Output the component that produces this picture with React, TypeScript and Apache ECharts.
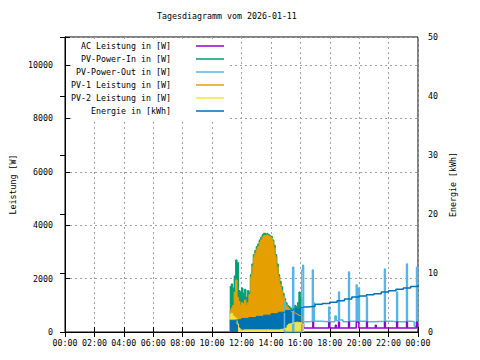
import { useEffect, useRef } from 'react';
import * as echarts from 'echarts';

const FONT = "'DejaVu Sans Mono', 'Liberation Mono', monospace";
const FS = 8.3;

const titleText = 'Tagesdiagramm vom 2026-01-11';
const xTickLabels = ['00:00', '02:00', '04:00', '06:00', '08:00', '10:00', '12:00', '14:00', '16:00', '18:00', '20:00', '22:00', '00:00'];
const yLeftTickLabels = ['0', '2000', '4000', '6000', '8000', '10000'];
const yRightTickLabels = ['0', '10', '20', '30', '40', '50'];

const names = {
  ac: 'AC Leistung in [W]',
  pvIn: 'PV-Power-In in [W]',
  pvOut: 'PV-Power-Out in [W]',
  pv1: 'PV-1 Leistung in [W]',
  pv2: 'PV-2 Leistung in [W]',
  energy: 'Energie in [kWh]',
};

// hours of day
const pvTimes = [
  11.2, 11.3, 11.4, 11.5, 11.6, 11.7, 11.8, 11.9,
  12.0, 12.1, 12.2, 12.3, 12.4, 12.5, 12.6, 12.7, 12.8, 12.9,
  13.0, 13.1, 13.2, 13.3, 13.4, 13.5, 13.6, 13.7, 13.8, 13.9,
  14.0, 14.1, 14.2, 14.3, 14.4, 14.5, 14.6, 14.7, 14.8, 14.9,
  15.0, 15.1, 15.2, 15.3, 15.4, 15.5, 15.6, 15.7, 15.8, 15.9,
  16.0, 16.1, 16.2,
];
const pvInW = [
  1700, 1800, 1650, 2100, 2700, 2600, 1550, 1500,
  1650, 1450, 1600, 1300, 1550, 1500, 2150, 2550, 2900, 3050,
  3200, 3300, 3450, 3550, 3650, 3700, 3680, 3700, 3650, 3620,
  3580, 3450, 3250, 2900, 2550, 2150, 1900, 1700, 1450, 1250,
  1100, 1000, 950, 900, 850, 900, 1000, 950, 1100, 1500,
  1300, 700, 0,
];
const pv1W = [
  800, 900, 1000, 1500, 1950, 1300, 1150, 1000,
  1100, 1050, 1200, 1000, 1100, 1400, 2050, 2450, 2800, 2950,
  3100, 3200, 3350, 3450, 3550, 3620, 3600, 3640, 3600, 3580,
  3520, 3400, 3150, 2800, 2430, 2050, 1780, 1550, 1320, 1150,
  1000, 920, 860, 800, 760, 720, 700, 680, 650, 620,
  600, 550, 0,
];
const pv2EarlyTimes = [11.2, 11.3, 11.4, 11.5, 11.6, 11.7, 11.8];
const pv2EarlyW = [650, 700, 600, 550, 500, 300, 0];
const pv2Times = [
  11.8, 11.9,
  12.0, 12.1, 12.2, 12.3, 12.4, 12.5, 12.6, 12.7, 12.8, 12.9,
  13.0, 13.1, 13.2, 13.3, 13.4, 13.5, 13.6, 13.7, 13.8, 13.9,
  14.0, 14.1, 14.2, 14.3, 14.4, 14.5, 14.6, 14.7, 14.8, 14.9,
  15.0, 15.1, 15.2, 15.3, 15.4, 15.5, 15.6, 15.7, 15.8, 15.9,
  16.0, 16.1, 16.2,
];
const pv2W = [
  150, 80,
  60, 80, 80, 80, 80, 80, 80, 80, 80, 80,
  80, 80, 80, 80, 80, 80, 80, 80, 80, 80,
  80, 80, 80, 80, 80, 80, 100, 100, 120, 120,
  150, 250, 300, 320, 330, 350, 360, 370, 360, 350,
  340, 300, 0,
];
const energyFillTimes = [11.2, 11.5, 12.0, 12.5, 13.0, 13.5, 14.0, 14.5, 15.0, 15.5, 16.0, 16.2];
const energyFillKWh = [2.0, 2.1, 2.3, 2.45, 2.65, 2.85, 3.1, 3.35, 3.65, 3.9, 4.15, 4.25];
const energyLineTimes = [16.2, 16.5, 17.0, 17.5, 18.0, 18.5, 19.0, 19.5, 20.0, 20.5, 21.0, 21.5, 22.0, 22.5, 23.0, 23.5, 24.0];
const energyLineKWh = [4.25, 4.35, 4.7, 4.85, 5.05, 5.3, 5.6, 5.95, 6.1, 6.3, 6.5, 6.8, 7.0, 7.25, 7.45, 7.7, 7.95];
const pvOutTimes = [
  14.85, 14.92, 15.48, 15.55, 16.1, 16.16, 16.22, 16.6, 16.82, 16.88, 16.9, 16.95,
  17.4, 17.93, 18.0, 18.35, 18.45, 18.6, 18.66, 18.9, 19.28, 19.34, 19.8, 19.86,
  19.96, 20.02, 20.5, 20.56, 21.0, 21.72, 21.78, 22.2, 22.55, 22.61, 23.22, 23.28,
  23.5, 23.75, 23.9, 23.96, 24.0,
];
const pvOutW = [
  1350, 0, 2430, 0, 2320, 2500, 380, 400, 2320, 400, 1100, 400,
  380, 940, 380, 600, 420, 1500, 450, 380, 2250, 400, 1760, 420,
  1650, 400, 1310, 380, 400, 2360, 400, 380, 1500, 380, 2550, 400,
  380, 220, 2430, 220, 220,
];
const acTimes = [
  16.15, 16.22, 16.85, 16.9, 17.93, 18.0, 18.38, 18.44, 18.6, 18.66, 19.28, 19.34,
  19.8, 19.98, 20.5, 20.56, 21.1, 21.16, 21.72, 21.78, 22.55, 22.61, 23.22, 23.28,
  23.9, 23.96, 24.0,
];
const acW = [
  330, 150, 370, 150, 350, 150, 250, 150, 370, 150, 370, 150,
  370, 150, 370, 150, 250, 150, 370, 150, 370, 150, 370, 150,
  370, 150, 150,
];

const colors = {
  ac: '#9400d3',
  pvIn: '#009e73',
  pvOut: '#56b4e9',
  pv1: '#e69f00',
  pv2: '#f0e442',
  energy: '#0072b2',
};

const zip = (t: number[], v: number[]) => t.map((x, i) => [x, v[i]]);

function area(name: string, color: string, data: number[][], yAxisIndex = 0) {
  return {
    type: 'line',
    name,
    data,
    step: 'end',
    showSymbol: false,
    symbol: 'none',
    yAxisIndex,
    color,
    lineStyle: { color, width: 1 },
    areaStyle: { color, opacity: 1 },
  };
}
function line(name: string, color: string, data: number[][], width: number, yAxisIndex = 0) {
  return {
    type: 'line',
    name,
    data,
    step: 'end',
    showSymbol: false,
    symbol: 'none',
    yAxisIndex,
    color,
    lineStyle: { color, width },
  };
}

export default function App() {
  const ref = useRef<HTMLDivElement>(null);
  useEffect(() => {
    if (!ref.current) return;
    const chart = echarts.init(ref.current, undefined, { renderer: 'svg' });
    const txt = { color: '#000', fontFamily: FONT, fontSize: FS };
    const dash = { color: '#a0a0a0', type: [2, 3] as any, width: 1 };
    chart.setOption({
      animation: false,
      backgroundColor: '#fff',
      title: {
        text: titleText,
        left: 157,
        top: 12,
        padding: 0,
        textStyle: { ...txt, fontWeight: 'normal' },
      },
      legend: {
        data: [names.ac, names.pvIn, names.pvOut, names.pv1, names.pv2, names.energy],
        orient: 'vertical',
        right: 250,
        top: 42,
        padding: [0, 6, 5, 0],
        backgroundColor: '#fff',
        align: 'right',
        icon: 'rect',
        itemWidth: 28,
        itemHeight: 1.5,
        itemGap: 5,
        formatter: (n: string) => `{a|${n}}`,
        textStyle: {
          ...txt,
          rich: { a: { ...txt, lineHeight: 10, padding: [0, 20, 0, 0] } },
        },
      },
      grid: {
        left: 65,
        right: 62,
        top: 37,
        bottom: 28,
        show: true,
        borderColor: '#000',
        borderWidth: 1,
        backgroundColor: 'transparent',
      },
      xAxis: [
        {
          type: 'value',
          min: 0,
          max: 24,
          interval: 2,
          position: 'bottom',
          axisLine: { show: true, lineStyle: { color: '#000' } },
          axisTick: { show: true, inside: true, length: 5, lineStyle: { color: '#000' } },
          axisLabel: { ...txt, margin: 7, formatter: (v: number) => xTickLabels[Math.round(v / 2)] ?? '' },
          splitLine: { show: true, lineStyle: dash },
        },
        {
          type: 'value',
          min: 0,
          max: 24,
          interval: 2,
          position: 'top',
          axisLine: { show: true, lineStyle: { color: '#000' } },
          axisTick: { show: true, inside: true, length: 5, lineStyle: { color: '#000' } },
          axisLabel: { show: false },
          splitLine: { show: false },
        },
      ],
      yAxis: [
        {
          type: 'value',
          min: 0,
          max: 11050,
          interval: 2000,
          position: 'left',
          name: 'Leistung [W]',
          nameLocation: 'middle',
          nameRotate: 90,
          nameGap: 48,
          nameTextStyle: txt,
          axisLine: { show: true, lineStyle: { color: '#000' } },
          axisTick: { show: true, inside: true, length: 5, lineStyle: { color: '#000' } },
          axisLabel: {
            ...txt,
            margin: 12,
            formatter: (v: number) => (v % 2000 === 0 ? yLeftTickLabels[v / 2000] ?? '' : ''),
          },
          splitLine: { show: true, lineStyle: dash },
        },
        {
          type: 'value',
          min: 0,
          max: 50,
          interval: 10,
          position: 'right',
          name: 'Energie [kWh]',
          nameLocation: 'middle',
          nameRotate: 90,
          nameGap: 30,
          nameTextStyle: txt,
          axisLine: { show: true, lineStyle: { color: '#000' } },
          axisTick: { show: true, inside: true, length: 5, lineStyle: { color: '#000' } },
          axisLabel: { ...txt, margin: 10, formatter: (v: number) => yRightTickLabels[Math.round(v / 10)] ?? '' },
          splitLine: { show: false },
        },
      ],
      series: [
        area(names.pvIn, colors.pvIn, zip(pvTimes, pvInW)),
        line(names.pvOut, colors.pvOut, zip(pvOutTimes, pvOutW), 1.5),
        line(names.ac, colors.ac, zip(acTimes, acW), 1.5),
        area(names.pv1, colors.pv1, zip(pvTimes, pv1W)),
        area(names.pv2, colors.pv2, zip(pv2EarlyTimes, pv2EarlyW)),
        area(names.energy, colors.energy, zip(energyFillTimes, energyFillKWh), 1),
        line(names.energy, colors.energy, zip(energyLineTimes, energyLineKWh), 1.5, 1),
        area(names.pv2, colors.pv2, zip(pv2Times, pv2W)),
      ],
    });
    return () => chart.dispose();
  }, []);
  return (
    <div
      ref={ref}
      style={{ position: 'fixed', left: 0, top: 0, width: 480, height: 360, background: '#fff' }}
    />
  );
}
